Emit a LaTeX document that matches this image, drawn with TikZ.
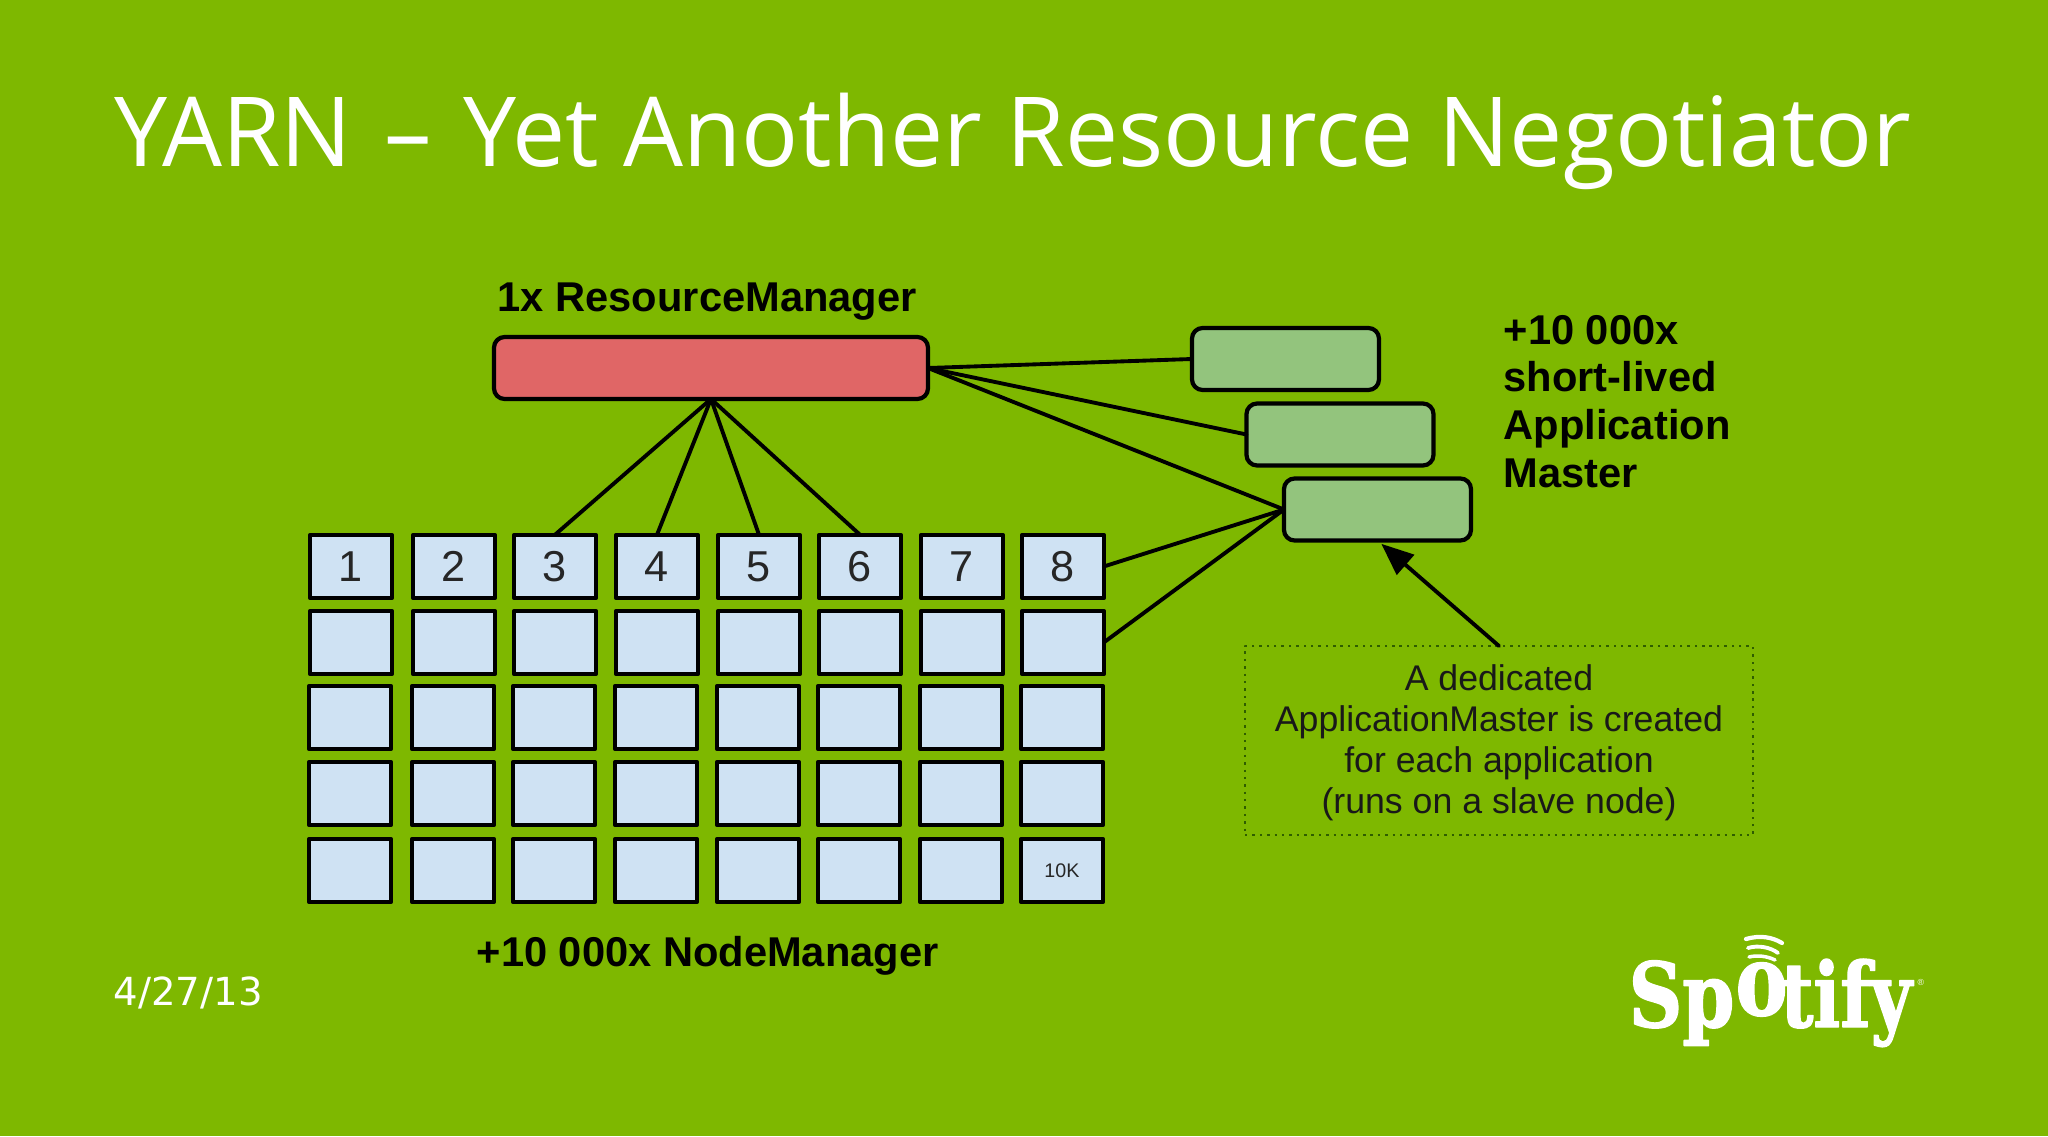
\documentclass[tikz,border=0pt]{standalone}
\usepackage{fontspec}
\setmainfont{Liberation Sans}
\newfontfamily\titlefont[FakeStretch=0.98]{Open Sans}
\newfontfamily\datefont{DejaVu Sans}
\newfontfamily\logofont[FakeStretch=0.83,FakeBold=1.5]{DejaVu Serif}
\newfontfamily\logotifyfont[FakeStretch=0.79,FakeBold=1.5]{DejaVu Serif}
\usetikzlibrary{arrows}
\definecolor{slidebg}{HTML}{7EB800}
\definecolor{cellblue}{HTML}{CFE2F3}
\definecolor{amgreen}{HTML}{93C47D}
\definecolor{rmred}{HTML}{E06666}
\definecolor{notedots}{HTML}{2F5E00}
\tikzset{
  cellbox/.style={draw=black,fill=cellblue,line width=1.2pt,outer sep=0pt,inner sep=0pt,minimum width=0.815cm,minimum height=0.635cm,font=\fontsize{12.3}{14}\selectfont,text=black!85},
  rmbox/.style={draw=black,fill=rmred,line width=1.2pt,rounded corners=3pt,outer sep=0pt,minimum width=4.34cm,minimum height=0.62cm},
  ambox/.style={draw=black,fill=amgreen,line width=1.2pt,rounded corners=3pt,outer sep=0pt,minimum width=1.87cm,minimum height=0.62cm},
  notebox/.style={draw=notedots,line width=0.7pt,line cap=butt,dash pattern=on 0.7pt off 1.4pt,outer sep=0pt,inner sep=0pt,minimum width=5.08cm,minimum height=1.89cm,align=center,font=\fontsize{10.15}{11.66}\selectfont,text=black!90},
  biglabel/.style={inner sep=0pt,font=\bfseries\fontsize{11.85}{13.57}\selectfont},
  logotext/.style={inner sep=0pt,text=white,font=\logofont\bfseries\fontsize{25.5}{27}\selectfont},
  wire/.style={line width=1.1pt,color=black}
}
\begin{document}
\begin{tikzpicture}[line cap=round,line join=round,>=triangle 45,x=1.0cm,y=1.0cm]
\clip(0,0) rectangle (20.48,11.36);
\fill[slidebg] (0,0) rectangle (20.48,11.36);
\draw (1.14,9.70) node[anchor=base west,inner sep=0pt,text=white,font=\titlefont\fontsize{27.5}{30}\selectfont] (title) {YARN\hspace{2.2pt} – \hspace{2.2pt}Yet Another Resource Negotiator};
\draw (1.13,1.31) node[anchor=base west,inner sep=0pt,text=white,font=\datefont\fontsize{11}{12}\selectfont] (date) {4/27/13};
\draw (4.97,8.25) node[anchor=base west,biglabel] (rmlabel) {1x ResourceManager};
\draw (4.76,1.70) node[anchor=base west,biglabel] (nmlabel) {+10 000x NodeManager};
\draw (15.03,8.217) node[anchor=north west,biglabel,align=left] (amlabel) {+10 000x\\short-lived\\Application\\Master};
% boxes up top
\draw (7.11,7.68) node[rmbox] (rm) {};
\draw (12.855,7.77) node[ambox] (am1) {};
\draw (13.40,7.015) node[ambox] (am2) {};
\draw (13.775,6.265) node[ambox] (am3) {};
% first row has the numbers
\draw (3.51,5.695) node[cellbox] (c11) {1};
\draw (4.54,5.695) node[cellbox] (c12) {2};
\draw (5.55,5.695) node[cellbox] (c13) {3};
\draw (6.57,5.695) node[cellbox] (c14) {4};
\draw (7.59,5.695) node[cellbox] (c15) {5};
\draw (8.60,5.695) node[cellbox] (c16) {6};
\draw (9.62,5.695) node[cellbox] (c17) {7};
\draw (10.63,5.695) node[cellbox] (c18) {8};
\draw (3.51,4.935) node[cellbox] (c21) {};
\draw (4.54,4.935) node[cellbox] (c22) {};
\draw (5.55,4.935) node[cellbox] (c23) {};
\draw (6.57,4.935) node[cellbox] (c24) {};
\draw (7.59,4.935) node[cellbox] (c25) {};
\draw (8.60,4.935) node[cellbox] (c26) {};
\draw (9.62,4.935) node[cellbox] (c27) {};
\draw (10.63,4.935) node[cellbox] (c28) {};
\draw (3.50,4.185) node[cellbox] (c31) {};
\draw (4.53,4.185) node[cellbox] (c32) {};
\draw (5.54,4.185) node[cellbox] (c33) {};
\draw (6.56,4.185) node[cellbox] (c34) {};
\draw (7.58,4.185) node[cellbox] (c35) {};
\draw (8.59,4.185) node[cellbox] (c36) {};
\draw (9.61,4.185) node[cellbox] (c37) {};
\draw (10.62,4.185) node[cellbox] (c38) {};
\draw (3.50,3.425) node[cellbox] (c41) {};
\draw (4.53,3.425) node[cellbox] (c42) {};
\draw (5.54,3.425) node[cellbox] (c43) {};
\draw (6.56,3.425) node[cellbox] (c44) {};
\draw (7.58,3.425) node[cellbox] (c45) {};
\draw (8.59,3.425) node[cellbox] (c46) {};
\draw (9.61,3.425) node[cellbox] (c47) {};
\draw (10.62,3.425) node[cellbox] (c48) {};
\draw (3.50,2.655) node[cellbox] (c51) {};
\draw (4.53,2.655) node[cellbox] (c52) {};
\draw (5.54,2.655) node[cellbox] (c53) {};
\draw (6.56,2.655) node[cellbox] (c54) {};
\draw (7.58,2.655) node[cellbox] (c55) {};
\draw (8.59,2.655) node[cellbox] (c56) {};
\draw (9.61,2.655) node[cellbox] (c57) {};
\draw (10.62,2.655) node[cellbox,font=\fontsize{5.6}{7}\selectfont] (c58) {10K};
\draw (14.99,3.955) node[notebox] (note) {\rule{0pt}{8.9pt}A dedicated\\ApplicationMaster is created\\for each application\\(runs on a slave node)};
% connectors
\draw [wire] (rm.south) -- (c13.north);
\draw [wire] (rm.south) -- (c14.north);
\draw [wire] (rm.south) -- (c15.north);
\draw [wire] (rm.south) -- (c16.north);
\draw [wire] (rm.east) -- (am1.west);
\draw [wire] (rm.east) -- (am2.west);
\draw [wire] (rm.east) -- (am3.west);
\draw [wire] (c18.east) -- (am3.west);
\draw [wire] (c28.east) -- (am3.west);
\draw [wire,->,shorten >=1.5pt] (note.north) -- (am3.south);
% logo
\draw (16.28,1.09) node[anchor=base west,logotext] (logosp) {Sp};
\draw (17.35,1.21) node[anchor=base west,logotext,font=\logotifyfont\bfseries\fontsize{28}{28}\selectfont] (logoo) {o};
\draw (17.80,1.09) node[anchor=base west,logotext,font=\logotifyfont\bfseries\fontsize{25.5}{27}\selectfont] (logotify) {tify};
\draw (19.17,1.51) node[anchor=base west,inner sep=0pt,text=white,font=\fontsize{2.5}{3}\selectfont] (logoreg) {\textregistered};
\draw [white,line width=1.2pt] (17.46,1.97) .. controls (17.60,2.01) and (17.72,1.99) .. (17.82,1.93);
\draw [white,line width=1.1pt] (17.48,1.88) .. controls (17.58,1.91) and (17.70,1.89) .. (17.78,1.83);
\draw [white,line width=1pt] (17.49,1.79) .. controls (17.57,1.81) and (17.67,1.80) .. (17.75,1.76);
\end{tikzpicture}
\end{document}
